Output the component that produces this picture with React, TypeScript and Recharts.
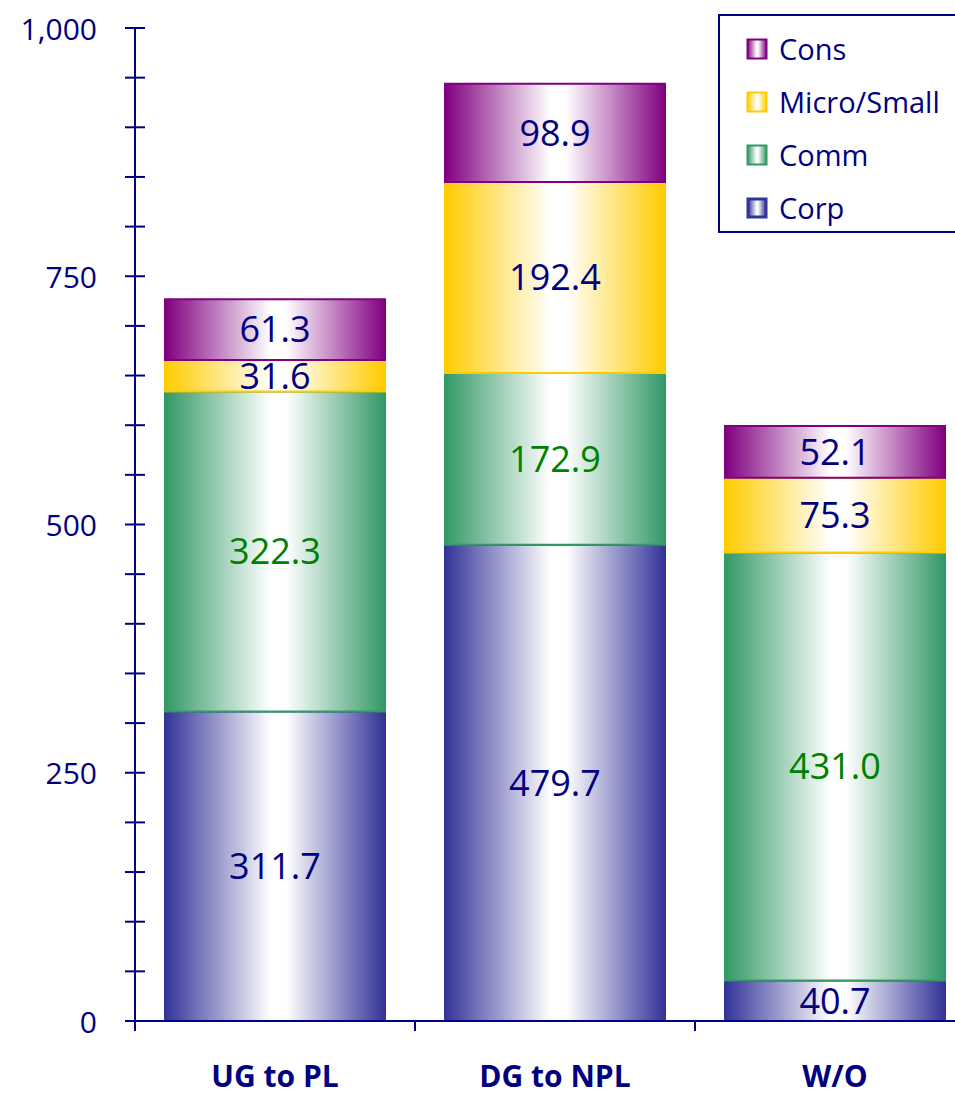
import { Bar, BarChart, LabelList, XAxis, YAxis } from "recharts";

const CATEGORIES = ["UG to PL", "DG to NPL", "W/O"];
const CORP = [311.7, 479.7, 40.7];
const COMM = [322.3, 172.9, 431.0];
const MICRO_SMALL = [31.6, 192.4, 75.3];
const CONS = [61.3, 98.9, 52.1];

const Y_TICKS = [
  0, 50, 100, 150, 200, 250, 300, 350, 400, 450, 500, 550, 600, 650, 700, 750, 800, 850, 900,
  950, 1000,
];
const Y_LABELLED = [0, 250, 500, 750, 1000];

const NAVY = "#000080";
const FONT = "'Open Sans', sans-serif";

const SERIES = [
  { key: "corp", name: "Corp", color: "#333399", labelColor: NAVY, legendBorder: 3 },
  { key: "comm", name: "Comm", color: "#339966", labelColor: "#008000", legendBorder: 2 },
  { key: "micro", name: "Micro/Small", color: "#FFCC00", labelColor: NAVY, legendBorder: 2 },
  { key: "cons", name: "Cons", color: "#800080", labelColor: NAVY, legendBorder: 2 },
];

const data = CATEGORIES.map((name, i) => ({
  name,
  corp: CORP[i],
  comm: COMM[i],
  micro: MICRO_SMALL[i],
  cons: CONS[i],
}));

function Stops({ color }: { color: string }) {
  return (
    <>
      <stop offset="0%" stopColor={color} />
      <stop offset="48%" stopColor="#ffffff" />
      <stop offset="55%" stopColor="#ffffff" />
      <stop offset="100%" stopColor={color} />
    </>
  );
}

function YTick(props: any) {
  const { x, y, payload } = props;
  const v = payload.value as number;
  return (
    <g>
      <line x1={x - 10} x2={x + 10} y1={y} y2={y} stroke={NAVY} strokeWidth={2} />
      {v === 0 && <line x1={x} x2={x} y1={y} y2={y + 10} stroke={NAVY} strokeWidth={2} />}
      {Y_LABELLED.includes(v) && (
        <text
          x={x - 38}
          y={y}
          textAnchor="end"
          dominantBaseline="central"
          fill={NAVY}
          fontSize={30}
          fontFamily={FONT}
        >
          {v.toLocaleString("en-US")}
        </text>
      )}
    </g>
  );
}

function XTick(props: any) {
  const { x, y, payload, index } = props;
  const half = payload.offset ?? 140;
  return (
    <g>
      {index > 0 && (
        <line x1={x - half} x2={x - half} y1={y} y2={y + 10} stroke={NAVY} strokeWidth={2} />
      )}
      <text
        x={x}
        y={y + 66}
        textAnchor="middle"
        fill={NAVY}
        fontSize={30}
        fontWeight="bold"
        fontFamily={FONT}
      >
        {payload.value}
      </text>
    </g>
  );
}

// legend sits in its own box over the chart's top-right corner, series listed top-down
function LegendBox() {
  return (
    <div
      style={{
        position: "absolute",
        left: 718,
        top: 14,
        boxSizing: "border-box",
        width: 260,
        height: 219,
        border: `2px solid ${NAVY}`,
        background: "#fff",
        paddingTop: 6,
        paddingLeft: 26,
        fontFamily: FONT,
      }}
    >
      {[...SERIES].reverse().map((s) => (
        <div key={s.key} style={{ display: "flex", alignItems: "center", height: 53 }}>
          <svg width={22} height={22} style={{ marginRight: 11 }}>
            <defs>
              <linearGradient id={`lg-${s.key}`} x1="0" y1="0" x2="1" y2="0">
                <Stops color={s.color} />
              </linearGradient>
            </defs>
            <rect
              x={s.legendBorder / 2 + 0.5}
              y={s.legendBorder / 2 + 0.5}
              width={21 - s.legendBorder}
              height={21 - s.legendBorder}
              fill={`url(#lg-${s.key})`}
              stroke={s.color}
              strokeWidth={s.legendBorder}
            />
          </svg>
          <span style={{ color: NAVY, fontSize: 29, lineHeight: 1 }}>{s.name}</span>
        </div>
      ))}
    </div>
  );
}

export default function App() {
  return (
    <div
      style={{
        position: "absolute",
        left: 0,
        top: 0,
        width: 955,
        height: 1096,
        overflow: "hidden",
        background: "#fff",
      }}
    >
      <BarChart
        width={980}
        height={1096}
        data={data}
        margin={{ top: 28, right: 5, bottom: 0, left: 0 }}
        barCategoryGap={30}
      >
        <defs>
          {SERIES.map((s) => (
            <linearGradient key={s.key} id={`grad-${s.key}`} x1="0" y1="0" x2="1" y2="0">
              <Stops color={s.color} />
            </linearGradient>
          ))}
        </defs>
        <YAxis
          width={135}
          domain={[0, 1000]}
          ticks={Y_TICKS}
          interval={0}
          tickLine={false}
          tickSize={0}
          tickMargin={0}
          axisLine={{ stroke: NAVY, strokeWidth: 2 }}
          tick={<YTick />}
        />
        <XAxis
          dataKey="name"
          height={75}
          tickLine={false}
          tickSize={0}
          tickMargin={0}
          axisLine={{ stroke: NAVY, strokeWidth: 2 }}
          tick={<XTick />}
        />
        {SERIES.map((s) => (
          <Bar
            key={s.key}
            dataKey={s.key}
            name={s.name}
            stackId="a"
            fill={`url(#grad-${s.key})`}
            stroke={s.color}
            strokeWidth={2}
            isAnimationActive={false}
          >
            <LabelList
              dataKey={s.key}
              position="center"
              fill={s.labelColor}
              fontSize={36}
              fontFamily={FONT}
              formatter={(v: any) => Number(v).toFixed(1)}
            />
          </Bar>
        ))}
      </BarChart>
      <LegendBox />
    </div>
  );
}
